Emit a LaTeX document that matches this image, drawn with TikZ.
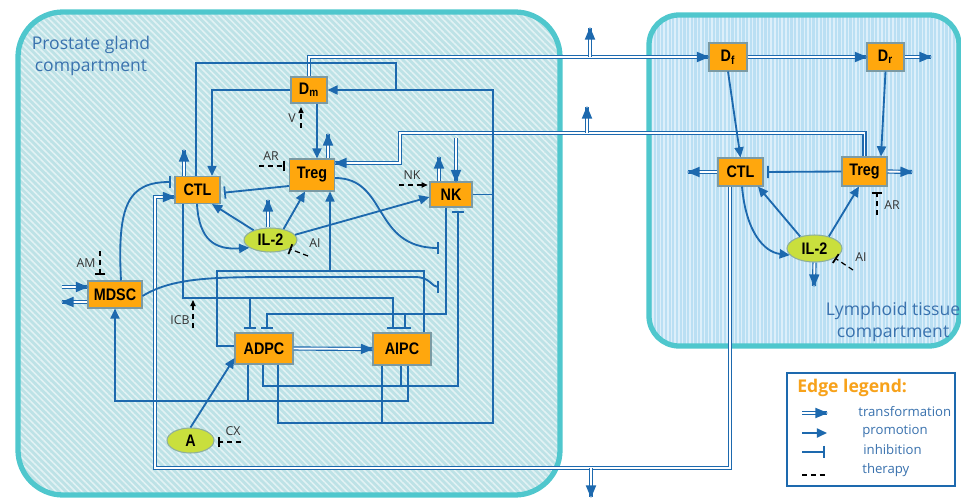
\documentclass[tikz,border=0pt]{standalone}
\usepackage{fontspec}
\setmainfont{Open Sans}
\newfontfamily\cellfont[FakeStretch=0.86]{Liberation Sans}
\usetikzlibrary{arrows.meta,patterns.meta,shapes.geometric,decorations.markings}
\definecolor{linkblue}{HTML}{1D69AE}
\definecolor{cellorange}{HTML}{FFA70D}
\definecolor{cellrim}{HTML}{7C9AA3}
\definecolor{cytogreen}{HTML}{C9DF3D}
\definecolor{cytorim}{HTML}{8FAF9C}
\definecolor{rimteal}{HTML}{4FC7CD}
\definecolor{prostfill}{HTML}{BDE2E6}
\definecolor{prostline}{HTML}{E2F2F4}
\definecolor{lymphfill}{HTML}{BADFF3}
\definecolor{lymphline}{HTML}{DDEFFA}
\definecolor{labelblue}{HTML}{3A72AE}
\definecolor{legendorange}{HTML}{F7A21B}
\tikzset{
  cell/.style={
    rectangle, draw=cellrim, fill=cellorange, line width=0.6pt,
    inner sep=0pt, font=\cellfont\bfseries\fontsize{9.5}{10}\selectfont
  },
  cyto/.style={
    ellipse, draw=cytorim, fill=cytogreen, line width=0.6pt,
    inner sep=0pt, font=\cellfont\bfseries\fontsize{9.5}{10}\selectfont
  },
  link/.style={line width=1.05pt, draw=linkblue},
  promote/.style={link, -{Triangle[length=5.8pt,width=5.2pt]}},
  inhibit/.style={link, -{Bar[width=7pt,line width=1pt]}},
  twin/.style={draw=linkblue, line width=0.65pt, double=white, double distance=1.1pt},
  transform/.style={twin, postaction={decorate},
    decoration={markings, mark=at position 1 with
      {\fill[linkblue] (0.5pt,0pt) -- (-6.6pt,3pt) -- (-6.6pt,-3pt) -- cycle;}}},
  therarrow/.style={-{Triangle[length=3.5pt,width=3pt]}, dash pattern=on 3pt off 2pt,
    line width=0.7pt, draw=black},
  therbar/.style={-{Bar[width=6pt,line width=1pt]}, dash pattern=on 3pt off 2pt,
    line width=0.7pt, draw=black},
  therlabel/.style={font=\fontsize{7}{8}\selectfont, text=black!80, inner sep=0pt},
  legendtext/.style={font=\fontsize{7.5}{9}\selectfont, text=labelblue, anchor=west, inner sep=0pt}
}

\begin{document}
\begin{tikzpicture}[x=0.02cm, y=-0.02cm]
  \clip (0,0) rectangle (961,500);

  % compartments
  \fill[prostfill, rounded corners=0.9cm] (18,12) rectangle (560,495);
  \fill[pattern={Lines[angle=-45,distance=2.6pt,line width=0.9pt]}, pattern color=prostline,
    rounded corners=0.9cm] (18,12) rectangle (560,495);
  \draw[rimteal, line width=3pt, rounded corners=0.9cm] (18,12) rectangle (560,495);
  \fill[lymphfill, rounded corners=0.6cm] (649,15) rectangle (959,346);
  \fill[pattern={Lines[angle=90,distance=2.1pt,line width=0.8pt]}, pattern color=lymphline,
    rounded corners=0.6cm] (649,15) rectangle (959,346);
  \draw[rimteal, line width=3pt, rounded corners=0.6cm] (649,15) rectangle (959,346);

  \node[text=labelblue, align=center, font=\fontsize{10}{12.5}\selectfont] (prostLab) at (91,56)
    {Prostate gland\\compartment};
  \node[text=labelblue, align=center, font=\fontsize{10}{12.5}\selectfont] (lymphLab) at (893,322)
    {Lymphoid tissue\\compartment};

  % legend
  \draw[linkblue, line width=0.8pt, fill=white] (787,373) rectangle (955,486);
  \node[anchor=west, inner sep=0pt, text=legendorange,
    font=\bfseries\fontsize{10}{12}\selectfont] (legTitle) at (797,388) {Edge legend:};
  \draw[transform] (802,413) -- (827,413);
  \draw[promote] (802,433) -- (827,433);
  \draw[inhibit] (802,452) -- (825,452);
  \draw[dash pattern=on 3pt off 2pt, line width=0.7pt] (802,475) -- (827,475);
  \node[legendtext] at (858,412) {transformation};
  \node[legendtext] at (862,431) {promotion};
  \node[legendtext] at (863,450) {inhibition};
  \node[legendtext] at (862,470) {therapy};

  % prostate gland cells
  \node[cell, minimum width=0.72cm, minimum height=0.52cm] (dm) at (309,90) {D\textsubscript{m}};
  \node[cell, minimum width=0.9cm, minimum height=0.64cm] (tregP) at (312,175) {Treg};
  \node[cell, minimum width=0.9cm, minimum height=0.54cm] (ctlP) at (197.5,190) {CTL};
  \node[cell, minimum width=0.84cm, minimum height=0.5cm] (nkP) at (451,194.5) {NK};
  \node[cell, minimum width=1.08cm, minimum height=0.54cm] (mdsc) at (115,294.5) {MDSC};
  \node[cell, minimum width=1.16cm, minimum height=0.62cm] (adpc) at (264,348.5) {ADPC};
  \node[cell, minimum width=1.16cm, minimum height=0.64cm] (aipc) at (402,349) {AIPC};
  \node[cyto, minimum width=1.06cm, minimum height=0.48cm] (ilP) at (270.5,240) {IL-2};
  \node[cyto, minimum width=0.94cm, minimum height=0.5cm] (aa) at (190.5,440.5) {A};

  % lymphoid tissue cells
  \node[cell, minimum width=0.76cm, minimum height=0.56cm] (df) at (728,57) {D\textsubscript{f}};
  \node[cell, minimum width=0.74cm, minimum height=0.56cm] (dr) at (885.5,57) {D\textsubscript{r}};
  \node[cell, minimum width=0.9cm, minimum height=0.56cm] (ctlL) at (740.5,172) {CTL};
  \node[cell, minimum width=0.9cm, minimum height=0.58cm] (tregL) at (864.5,171.5) {Treg};
  \node[cyto, minimum width=1.1cm, minimum height=0.54cm] (ilL) at (814.5,248.5) {IL-2};

  % free ends
  \coordinate (dmOut) at (590,28);
  \coordinate (drOut) at (931,57);
  \coordinate (tregOut) at (587,107);
  \coordinate (ctlOut) at (591,497);
  \coordinate (tregUp) at (328,134);
  \coordinate (ctlUp) at (184,150);
  \coordinate (ilUp) at (268,200);
  \coordinate (nkUp) at (439,157);
  \coordinate (nkIn) at (456,138);
  \coordinate (mdscIn) at (62,287);
  \coordinate (mdscOut) at (62,302);
  \coordinate (ctlLOut) at (688,172);
  \coordinate (tregLOut) at (912,172);
  \coordinate (ilLOut) at (814,286);
  \coordinate (nkKillA) at (439,248);
  \coordinate (nkKillB) at (439,287);

  % transformation
  \draw[transform] (dm.north) |- (df.west);
  \draw[transform] (dmOut |- df.west) -- (dmOut);
  \draw[transform] (df.east) -- (dr.west);
  \draw[transform] (dr.east) -- (drOut);
  \draw[transform] (tregL.north) |- (400,133) |- (tregP.east |- 0,163);
  \draw[transform] (tregOut |- 0,133) -- (tregOut);
  \draw[transform] (ctlL.south -| 730,0) |- (155,468) |- (ctlP.west |- 0,197);
  \draw[transform] (ctlOut |- 0,468) -- (ctlOut);
  \draw[transform] (adpc.east) -- (aipc.west);
  \draw[transform] (tregP.north -| tregUp) -- (tregUp);
  \draw[transform] (ctlP.north -| ctlUp) -- (ctlUp);
  \draw[transform] (ilP.north -| ilUp) -- (ilUp);
  \draw[transform] (nkP.north -| nkUp) -- (nkUp);
  \draw[transform] (nkIn) -- (nkP.north -| nkIn);
  \draw[transform] (mdscIn) -- (mdsc.west |- mdscIn);
  \draw[transform] (mdsc.west |- mdscOut) -- (mdscOut);
  \draw[transform] (ctlL.west) -- (ctlLOut);
  \draw[transform] (tregL.east) -- (tregLOut);
  \draw[transform] (ilL.south) -- (ilLOut);

  % promotion
  \draw[promote] (dm.south -| 317,0) -- (tregP.north -| 317,0);
  \draw[promote] (dm.west) -| (ctlP.north -| 212,0);
  \draw[link] (ctlP.north -| 196,0) |- (396,63) -- (396,90);
  \draw[promote] (adpc.south -| 278,0) |- (493,423) |- (dm.east);
  \draw[link] (aipc.south -| 382,0) -- (382,423);
  \draw[link] (nkP.east) -- (nkP.east -| 493,0);
  \draw[promote] (ilP.150) -- (ctlP.south -| 212,0);
  \draw[promote] (ctlP.south -| 197,0) .. controls (199,240) and (215,250) .. (ilP.200);
  \draw[promote] (ilP.40) -- (tregP.south -| 305,0);
  \draw[promote] (ilP.12) -- (nkP.west |- 0,197);
  \draw[promote] (adpc.west |- 0,346) -| (217,271) -| (tregP.south -| 330,0);
  \draw[link] (aipc.north -| 424,0) |- (330,271);
  \draw[promote] (aipc.south -| 408,0) |- (115,401) -- (mdsc.south);
  \draw[link] (adpc.south -| 248,0) -- (248,401);
  \draw[promote] (aa.north) -- (adpc.west |- 0,358);
  \draw[promote] (df.south) -- (ctlL.north);
  \draw[promote] (dr.south) -- (tregL.north -| 881,0);
  \draw[promote] (ilL.140) -- (ctlL.south -| 758,0);
  \draw[promote] (ilL.40) -- (tregL.south -| 859,0);
  \draw[promote] (ctlL.south -| 742,0) .. controls (746,232) and (764,252) .. (ilL.195);

  % inhibition
  \draw[inhibit, shorten >=2pt] (tregL.west) -- (ctlL.east);
  \draw[inhibit, shorten >=2pt] (tregP.west |- 0,186) -- (ctlP.east |- 0,193);
  \draw[inhibit, shorten >=2pt] (mdsc.north -| 121,0) .. controls (117,205) and (128,182) .. (ctlP.west |- 0,182);
  \draw[inhibit, shorten >=2pt] (ctlP.south -| 183,0) |- (393,298) -- (aipc.north -| 393,0);
  \draw[inhibit, shorten >=2pt] (250,298) -- (adpc.north -| 250,0);
  \draw[inhibit, shorten >=2pt] (nkP.south -| 446,0) |- (267,314) -- (adpc.north -| 267,0);
  \draw[inhibit, shorten >=2pt] (405,314) -- (aipc.north -| 405,0);
  \draw[inhibit, shorten >=2pt] (adpc.south -| 263,0) |- (458,386) -- (nkP.south -| 458,0);
  \draw[link] (aipc.south -| 401,0) -- (401,386);
  \draw[inhibit] (tregP.east |- 0,178) .. controls (388,178) and (372,248) .. (nkKillA);
  \draw[inhibit] (mdsc.east |- 0,296) .. controls (175,276) and (220,277) .. (300,277)
    -- (415,277) .. controls (430,277) and (432,287) .. (nkKillB);

  % therapy
  \node[therlabel] (vLab) at (292,118) {V};
  \coordinate (vFoot) at (301,128);
  \draw[therarrow, shorten >=2pt] (vFoot) -- (dm.south -| vFoot);
  \node[therlabel] (arLab) at (271,156) {AR};
  \coordinate (arFoot) at (259,166);
  \draw[therbar, shorten >=2.3pt] (arFoot) -- (tregP.west |- arFoot);
  \node[therlabel] (nkLab) at (412,175) {NK};
  \coordinate (nkFoot) at (399,185);
  \draw[therarrow, shorten >=1pt] (nkFoot) -- (nkP.west |- nkFoot);
  \node[therlabel] (aiLab) at (315,243) {AI};
  \coordinate (aiFoot) at (308,256);
  \draw[therbar] (aiFoot) -- (ilP.-25);
  \node[therlabel] (amLab) at (86,263) {AM};
  \coordinate (amFoot) at (100,251);
  \draw[therbar, shorten >=3pt] (amFoot) -- (mdsc.north -| amFoot);
  \node[therlabel] (icbLab) at (180,320) {ICB};
  \coordinate (icbFoot) at (193,328);
  \coordinate (icbTip) at (193,300);
  \draw[therarrow] (icbFoot) -- (icbTip);
  \node[therlabel] (cxLab) at (233,431) {CX};
  \coordinate (cxFoot) at (241,442);
  \draw[therbar, shorten >=2pt] (cxFoot) -- (aa.east |- cxFoot);
  \node[therlabel] (arLLab) at (892,205) {AR};
  \coordinate (arLFoot) at (877,215);
  \draw[therbar, shorten >=3pt] (arLFoot) -- (tregL.south -| arLFoot);
  \node[therlabel] (aiLLab) at (861,257) {AI};
  \coordinate (aiLFoot) at (853,270);
  \draw[therbar] (aiLFoot) -- (ilL.-25);
\end{tikzpicture}
\end{document}
